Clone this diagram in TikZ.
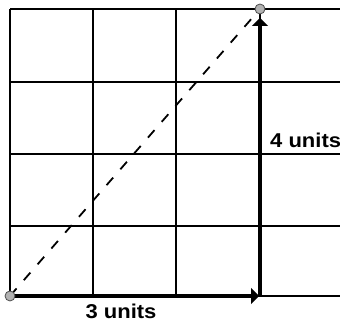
\documentclass[tikz,border=0pt]{standalone}
\usepackage{fontspec}
\setmainfont{Liberation Sans}
\usetikzlibrary{arrows.meta}
\begin{document}
\begin{tikzpicture}[x=1pt,y=1pt,
  gridline/.style={line width=2pt,black},
  vecline/.style={line width=3.5pt,black,-{Triangle[width=16pt,length=8pt]}},
  diagline/.style={line width=1.8pt,black,dash pattern=on 10pt off 11pt},
  endpt/.style={circle,fill=gray!60,draw=black!70,line width=0.8pt,inner sep=0pt,minimum size=10pt},
  lbl/.style={font=\bfseries\fontsize{20}{21}\selectfont,inner sep=0pt}]
\useasboundingbox (0,0) rectangle (340,323);
% grid
\foreach \y in {27,97,169,241,314} \draw[gridline] (10,\y) -- (340,\y);
\foreach \x in {10,93,176} \draw[gridline] (\x,27) -- (\x,314);
\coordinate (O) at (10,27);
\coordinate (C) at (260,27);
\coordinate (T) at (260,314);
\draw[gridline] (C) -- (T);
\draw[diagline] (O) -- (T);
\draw[vecline,shorten >=1pt] (O) -- (C);
\draw[vecline,shorten >=9pt] (C) -- (T);
\node[endpt] (p0) at (O) {};
\node[endpt] (p1) at (T) {};
\node[lbl,anchor=north] (l3) at (121,19) {\scalebox{1.1}[1]{3 units}};
\node[lbl,anchor=west] (l4) at (270,183) {\scalebox{1.1}[1]{4 units}};
\end{tikzpicture}
\end{document}
